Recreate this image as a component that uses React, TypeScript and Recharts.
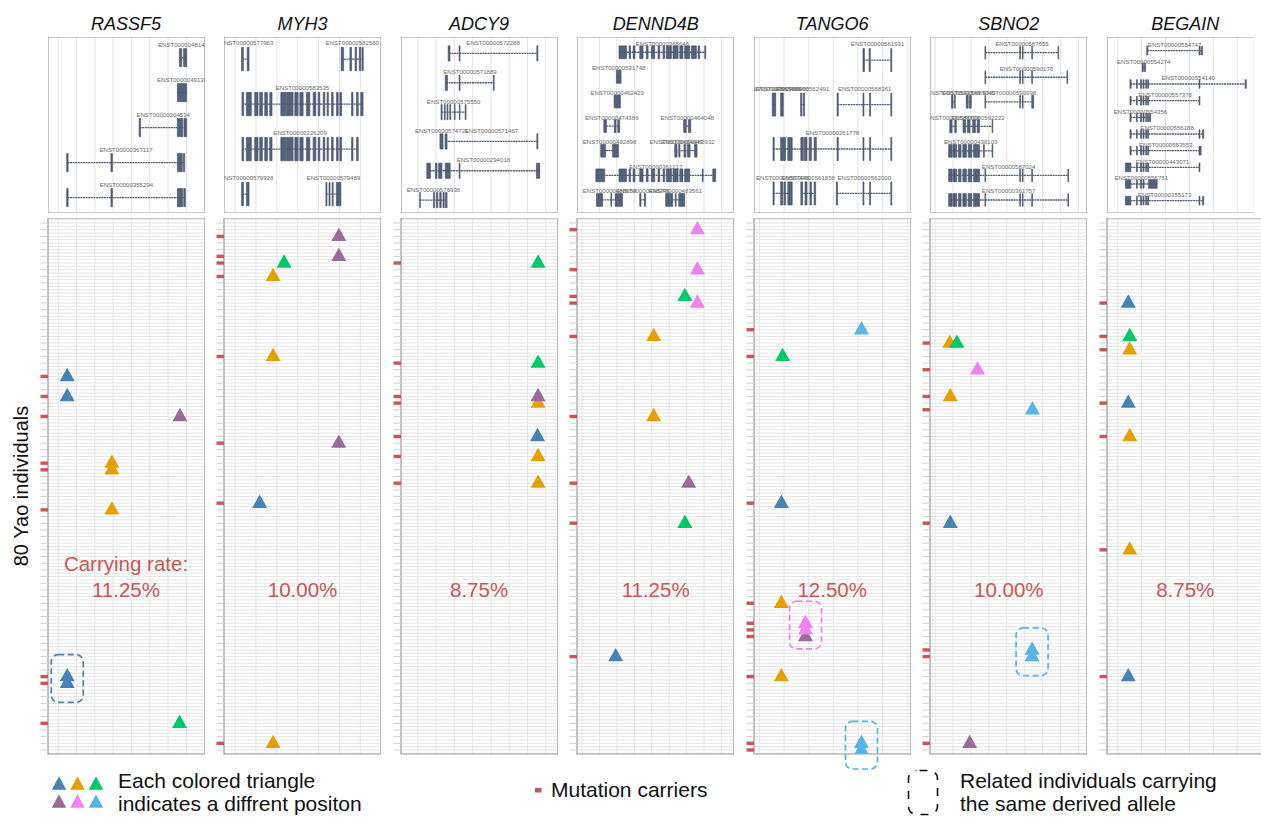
import React from "react";
import {
  ComposedChart,
  ScatterChart,
  Scatter,
  XAxis,
  YAxis,
  CartesianGrid,
  ReferenceArea,
  ReferenceLine,
} from "recharts";

const FONT = '"Liberation Sans", Arial, Helvetica, sans-serif';

const genes = ["RASSF5", "MYH3", "ADCY9", "DENND4B", "TANGO6", "SBNO2", "BEGAIN"];
const carryingRates = ["11.25%", "10.00%", "8.75%", "11.25%", "12.50%", "10.00%", "8.75%"];

// x range of each panel, in units of the panel's grid spacing
const xRanges = [
  [-0.56, 8.02],
  [-0.53, 6.99],
  [-0.92, 7.67],
  [-0.29, 8.72],
  [-0.22, 6.15],
  [-0.28, 8.47],
  [-0.45, 6.12],
];
const gridCounts = [8, 7, 8, 9, 7, 9, 7];

const COLORS: Record<string, string> = {
  B: "#4682B4",
  O: "#E69F00",
  G: "#00C96A",
  P: "#9A6A9A",
  K: "#EE82EE",
  L: "#56B4E9",
};
const RED = "#CD5555";

// [individual row, position, variant colour]
const rassf5Hits = [[23, 0.49, "B"], [26, 0.49, "B"], [29, 6.65, "P"], [36, 2.93, "O"], [37, 2.93, "O"], [43, 2.93, "O"], [68, 0.49, "B"], [69, 0.49, "B"], [75, 6.63, "G"]];
const myh3Hits = [[2, 4.97, "P"], [5, 4.97, "P"], [6, 2.35, "G"], [8, 1.82, "O"], [20, 1.82, "O"], [33, 4.97, "P"], [42, 1.18, "B"], [78, 1.82, "O"]];
const adcy9Hits = [[6, 6.58, "G"], [21, 6.58, "G"], [26, 6.58, "P"], [27, 6.58, "O"], [32, 6.55, "B"], [35, 6.58, "O"], [39, 6.58, "O"]];
const dennd4bHits = [[1, 6.62, "K"], [7, 6.62, "K"], [11, 5.9, "G"], [12, 6.62, "K"], [17, 4.11, "O"], [29, 4.11, "O"], [39, 6.12, "P"], [45, 5.9, "G"], [65, 1.93, "B"]];
const tango6Hits = [[16, 4.14, "L"], [20, 0.94, "G"], [42, 0.89, "B"], [57, 0.89, "O"], [60, 1.87, "K"], [61, 1.87, "K"], [62, 1.87, "P"], [68, 0.89, "O"], [78, 4.14, "L"], [79, 4.14, "L"]];
const sbno2Hits = [[18, 0.82, "O"], [18, 1.22, "G"], [22, 2.37, "K"], [26, 0.85, "O"], [28, 5.43, "L"], [45, 0.85, "B"], [64, 5.41, "L"], [65, 5.41, "L"], [78, 1.93, "P"]];
const begainHits = [[12, 0.44, "B"], [17, 0.5, "G"], [19, 0.5, "O"], [27, 0.44, "B"], [32, 0.5, "O"], [49, 0.5, "O"], [68, 0.44, "B"]];
const hitsByGene = [rassf5Hits, myh3Hits, adcy9Hits, dennd4bHits, tango6Hits, sbno2Hits, begainHits];

// related individuals carrying the same derived allele
const relatedGroups = [
  { gene: 0, pos: 0.49, rows: [68, 69], c: "B" },
  { gene: 4, pos: 1.87, rows: [60, 61], c: "K" },
  { gene: 4, pos: 4.14, rows: [78, 79], c: "L" },
  { gene: 5, pos: 5.41, rows: [64, 65], c: "L" },
];

// transcripts: row, id, start, end, exon bounds (pairs), optional label x
const tx = (r: number, id: string, s: number, e: number, ex: number[], lx?: number) => ({ r, id, s, e, ex, lx });

const rassf5Tx = [
  tx(0, "ENST0000048148", 6.62, 7.02, [6.62, 6.75, 6.85, 7.02]),
  tx(1, "ENST0000049136", 6.51, 7.02, [6.51, 7.02]),
  tx(2, "ENST00000304534", 4.45, 7.02, [4.42, 4.5, 6.51, 6.8, 6.87, 7.02]),
  tx(3, "ENST00000367117", 0.5, 6.91, [0.46, 0.54, 2.88, 2.96, 6.51, 6.78, 6.84, 6.91]),
  tx(4, "ENST00000355294", 0.5, 6.95, [0.46, 0.54, 2.88, 2.96, 6.51, 6.8, 6.86, 6.95]),
];

const myh3Core = [0.33, 0.41, 0.54, 0.78, 0.94, 1.1, 1.18, 1.31, 1.42, 1.55, 1.66, 1.77, 2.19, 2.43, 2.46, 2.78, 2.86, 3.02, 3.1, 3.26, 3.42, 3.58, 3.74, 3.87, 3.98, 4.06, 4.22, 4.3, 4.41, 4.47, 4.62, 4.7, 4.86, 4.94, 5.02, 5.1, 5.58, 5.65, 5.82, 5.9];
const myh3Tx = [
  tx(0, "NST00000577963", 0.33, 0.66, [0.31, 0.4, 0.58, 0.67], 0.65),
  tx(0, "ENST00000582580", 5.1, 6.13, [5.08, 5.2, 5.5, 5.58, 5.75, 5.82, 5.95, 6.02, 6.08, 6.14]),
  tx(1, "ENST00000583535", 0.33, 6.13, [...myh3Core, 6.02, 6.13]),
  tx(2, "ENST00000226209", 0.33, 5.9, myh3Core),
  tx(3, "NST00000579928", 0.33, 0.66, [0.31, 0.4, 0.55, 0.67], 0.65),
  tx(3, "ENST00000579489", 4.35, 5.07, [4.35, 4.4, 4.5, 4.55, 4.65, 4.7, 4.85, 5.07]),
];

const adcy9Tx = [
  tx(0, "ENST00000572288", 1.69, 6.55, [1.66, 1.76, 2.26, 2.31, 6.51, 6.57]),
  tx(1, "ENST00000571889", 1.54, 4.17, [1.5, 1.62, 2.26, 2.31, 4.13, 4.18]),
  tx(2, "ENST00000575550", 1.29, 2.63, [1.27, 1.33, 1.45, 1.5, 1.6, 1.65, 1.75, 1.8, 2.0, 2.04, 2.27, 2.31, 2.59, 2.64]),
  tx(3, "ENST00000574721", 1.23, 1.38, [1.21, 1.38]),
  tx(3, "ENST00000571467", 1.51, 6.55, [1.49, 1.6, 6.51, 6.57]),
  tx(4, "ENST00000294016", 0.51, 6.67, [0.49, 0.69, 0.96, 1.05, 1.14, 1.32, 1.5, 1.77, 2.26, 2.31, 6.49, 6.67]),
  tx(5, "ENST00000576936", 0.11, 1.6, [0.1, 0.14, 0.85, 0.92, 1.02, 1.1, 1.2, 1.28, 1.38, 1.45, 1.52, 1.6]),
];

const dennd4bCore = [2.12, 2.55, 2.7, 2.78, 2.93, 3.04, 3.31, 3.5, 3.69, 3.79, 3.98, 4.17, 4.36, 4.46, 4.65, 4.74, 4.84, 5.13, 5.22, 5.51, 5.61, 5.79, 5.89, 6.18];
const dennd4bTx = [
  tx(0, "ENST00000368646", 2.12, 7.1, [...dennd4bCore, 6.28, 6.56, 6.66, 6.75, 7.04, 7.1]),
  tx(1, "ENST00000531748", 1.97, 2.24, [1.97, 2.24]),
  tx(2, "ENST00000462423", 1.84, 2.2, [1.84, 2.2]),
  tx(3, "ENST00000474386", 1.25, 2.16, [1.25, 1.4, 1.85, 1.95, 2.05, 2.16]),
  tx(3, "ENST00000464048", 5.83, 6.24, [5.83, 5.98, 6.1, 6.24]),
  tx(4, "ENST00000492898", 1.07, 2.09, [1.07, 1.35, 1.75, 2.09]),
  tx(4, "ENST00000484647", 5.32, 5.5, [5.32, 5.45]),
  tx(4, "ENST00000482932", 5.55, 6.6, [5.55, 5.62, 5.85, 5.95, 6.05, 6.2, 6.45, 6.6]),
  tx(5, "ENST00000361217", 0.79, 7.67, [0.79, 1.3, ...dennd4bCore, 6.9, 6.95, 7.5, 7.67]),
  tx(6, "ENST00000488654", 0.83, 2.32, [0.83, 1.18, 1.65, 1.7, 1.9, 2.32]),
  tx(6, "ENST00000498346", 3.31, 3.65, [3.31, 3.38, 3.58, 3.65]),
  tx(6, "ENST00000483561", 4.8, 5.89, [4.8, 5.2, 5.35, 5.4, 5.55, 5.89]),
];

const tango6Tx = [
  tx(0, "ENST00000561931", 4.22, 5.37, [4.2, 4.26, 4.45, 4.5, 5.33, 5.37]),
  tx(1, "ENST00000565486", 0.52, 0.66, [0.52, 0.66]),
  tx(1, "ENST00000566466", 0.86, 0.97, [0.86, 0.97]),
  tx(1, "ENST00000562491", 1.67, 1.83, [1.67, 1.72, 1.78, 1.83]),
  tx(1, "ENST00000568361", 3.17, 5.37, [3.15, 3.2, 4.2, 4.24, 4.47, 4.51, 5.33, 5.37]),
  tx(2, "ENST00000261778", 0.56, 5.37, [0.55, 0.6, 0.86, 1.06, 1.15, 1.33, 1.68, 1.78, 1.82, 1.93, 2.02, 2.11, 2.22, 2.31, 3.15, 3.2, 4.2, 4.24, 4.47, 4.51, 5.33, 5.37]),
  tx(3, "ENST00000567446", 0.56, 1.33, [0.55, 0.6, 0.86, 0.95, 1.0, 1.06, 1.15, 1.33]),
  tx(3, "ENST00000561856", 1.68, 2.28, [1.68, 1.75, 1.85, 1.93, 2.05, 2.11, 2.22, 2.28]),
  tx(3, "ENST00000562000", 3.14, 5.37, [3.12, 3.17, 4.2, 4.24, 4.47, 4.51, 5.33, 5.37]),
];

const sbno2Tail = [2.78, 2.82, 4.72, 4.76, 4.87, 4.91, 5.39, 5.43];
const sbno2Head = [0.76, 0.95, 1.0, 1.2, 1.3, 1.45, 1.55, 1.75, 1.85, 2.05, 2.15, 2.48];
const sbno2Tx = [
  tx(0, "ENST00000587655", 2.8, 6.89, [...sbno2Tail, 6.85, 6.89]),
  tx(1, "ENST00000590176", 2.8, 7.39, [...sbno2Tail, 7.35, 7.39]),
  tx(2, "ENST00000591548", 0.94, 1.13, [0.92, 1.0, 1.08, 1.13]),
  tx(2, "ENST00000585040", 1.74, 2.02, [1.74, 1.85, 1.92, 2.02]),
  tx(2, "ENST00000590998", 2.8, 5.5, [2.78, 2.82, 4.72, 4.76, 4.87, 4.91, 5.39, 5.5]),
  tx(3, "ENST00000588708", 0.82, 1.19, [0.82, 0.95, 1.1, 1.19]),
  tx(3, "ENST00000592222", 1.56, 3.22, [1.56, 1.7, 1.8, 1.95, 2.1, 2.25, 2.35, 2.48, 3.18, 3.22]),
  tx(4, "ENST00000438103", 0.76, 3.22, [...sbno2Head, 2.7, 2.75, 3.18, 3.22]),
  tx(5, "ENST00000587024", 0.76, 7.44, [...sbno2Head, ...sbno2Tail, 7.4, 7.44]),
  tx(6, "ENST00000361757", 0.76, 7.44, [...sbno2Head, ...sbno2Tail, 7.4, 7.44]),
];

const begainCore = [0.78, 0.82, 0.95, 1.0, 1.06, 1.1, 1.17, 1.21, 1.25, 1.29];
const begainTx = [
  tx(0, "ENST00000554747", 1.23, 3.53, [1.21, 1.26, 3.4, 3.45, 3.5, 3.55]),
  tx(1, "ENST00000554274", 1.02, 1.16, [1.02, 1.07, 1.11, 1.16]),
  tx(2, "ENST00000554140", 0.53, 5.37, [0.51, 0.56, ...begainCore, 3.4, 3.44, 5.33, 5.38]),
  tx(3, "ENST00000557378", 0.53, 3.44, [0.51, 0.56, ...begainCore, 3.4, 3.44]),
  tx(4, "ENST00000554356", 0.53, 1.37, [0.51, 0.56, ...begainCore, 1.33, 1.37]),
  tx(5, "ENST00000556188", 0.53, 3.6, [0.51, 0.56, ...begainCore, 3.4, 3.44, 3.55, 3.6]),
  tx(6, "ENST00000553553", 0.53, 3.49, [0.51, 0.56, ...begainCore, 3.4, 3.44, 3.45, 3.49]),
  tx(7, "ENST00000443071", 0.32, 3.43, [0.32, 0.55, ...begainCore, 3.4, 3.44]),
  tx(8, "ENST00000556751", 0.32, 1.65, [0.32, 0.55, 0.78, 0.82, 0.95, 1.0, 1.06, 1.1, 1.29, 1.65]),
  tx(9, "ENST00000355173", 0.32, 3.6, [0.32, 0.55, ...begainCore, 3.4, 3.44, 3.55, 3.6]),
];
const transcriptsByGene = [rassf5Tx, myh3Tx, adcy9Tx, dennd4bTx, tango6Tx, sbno2Tx, begainTx];

// row padding (top, bottom) of the transcript panels
const topPads = [[0.59, 0.44], [0.49, 0.42], [0.56, 0.44], [0.62, 0.53], [0.52, 0.44], [0.64, 0.53], [0.82, 0.74]];

// layout
const PANEL_W = 157;
const PANEL_STEP = 176.55;
const FIRST_LEFT = 47.5;
const TOP_Y = 37;
const TOP_H = 176;
const BOT_Y = 218;
const BOT_H = 536;
const TICK_W = 8;
const Y_LO = -0.75;
const Y_HI = 79.6;
const N_IND = 80;

const rowTicks = Array.from({ length: N_IND }, (_, i) => i);
const halfRows = Array.from({ length: 2 * N_IND + 1 }, (_, i) => i / 2 - 0.5);
const panelLeft = (i: number) => FIRST_LEFT + PANEL_STEP * i;

function Tri(p: any) {
  const { cx, cy, payload } = p;
  return (
    <polygon
      points={`${cx},${cy - 8.7} ${cx - 7.5},${cy + 4.7} ${cx + 7.5},${cy + 4.7}`}
      fill={payload.color}
    />
  );
}

function TxLabel(p: any) {
  return (
    <text x={p.cx} y={p.cy} textAnchor="middle" dominantBaseline="central" fontSize={6.1} fill="#6a6a6a" fontFamily={FONT}>
      {p.payload.id}
    </text>
  );
}

function RowTick(props: any) {
  const { x, y, payload, carriers } = props;
  if (carriers.has(payload.value)) {
    return <rect x={x - 7.5} y={y - 1.7} width={7.5} height={3.4} fill={RED} />;
  }
  return <line x1={x - 7.5} x2={x} y1={y} y2={y} stroke="#d0d0d0" strokeWidth={1} />;
}

function GeneModel({ idx }: { idx: number }) {
  const list = transcriptsByGene[idx];
  const [lo, hi] = xRanges[idx];
  const width = idx === 6 ? 147.5 : PANEL_W;
  const hiTop = lo + ((hi - lo) * width) / PANEL_W;
  const nRows = Math.max(...list.map((t) => t.r)) + 1;
  const [pt, pb] = topPads[idx];
  const yLo = -pt;
  const yHi = nRows - 1 + pb;
  const grid = Array.from({ length: gridCounts[idx] }, (_, i) => i).filter((v) => v <= hiTop);
  const exons: { a: number; b: number; r: number }[] = [];
  list.forEach((t) => {
    for (let k = 0; k < t.ex.length; k += 2) exons.push({ a: t.ex[k], b: t.ex[k + 1], r: t.r });
  });
  const labels = list.map((t) => ({ x: t.lx ?? (t.s + t.e) / 2, y: t.r - 0.37, id: t.id }));
  return (
    <ComposedChart width={width} height={TOP_H} margin={{ top: 0, right: 0, bottom: 0, left: 0 }}>
      <XAxis type="number" dataKey="x" domain={[lo, hiTop]} allowDataOverflow hide />
      <YAxis type="number" dataKey="y" domain={[yLo, yHi]} reversed allowDataOverflow hide />
      <CartesianGrid horizontal={false} verticalValues={grid} stroke="#e3e3e3" strokeWidth={1} />
      {list.map((t, i) => (
        <ReferenceLine
          key={"in" + i}
          segment={[{ x: t.s, y: t.r }, { x: t.e, y: t.r }]}
          stroke="#4d5c73"
          strokeWidth={1.3}
          strokeDasharray="2 0.6"
          ifOverflow="visible"
        />
      ))}
      {exons.map((e, i) => (
        <ReferenceArea
          key={"ex" + i}
          x1={e.a}
          x2={e.b}
          y1={e.r - 0.26}
          y2={e.r + 0.26}
          fill="#53637b"
          fillOpacity={1}
          stroke="#3f4c61"
          strokeWidth={0.6}
          ifOverflow="visible"
        />
      ))}
      <Scatter data={labels} shape={TxLabel} isAnimationActive={false} />
      <ReferenceArea x1={lo} x2={hiTop} y1={yLo} y2={yHi} fill="none" stroke="#9a9a9a" strokeWidth={1.2} ifOverflow="visible" />
    </ComposedChart>
  );
}

function CarrierPanel({ idx }: { idx: number }) {
  const hits = hitsByGene[idx];
  const [lo, hi] = xRanges[idx];
  const carriers = new Set(hits.map((h) => h[0] as number));
  const pts = hits
    .map(([row, pos, c]) => ({ x: pos as number, y: row as number, color: COLORS[c as string] }))
    .sort((a, b) => b.y - a.y);
  const grid = Array.from({ length: gridCounts[idx] }, (_, i) => i);
  const groups = relatedGroups.filter((g) => g.gene === idx);
  return (
    <ScatterChart width={PANEL_W + TICK_W} height={BOT_H + 18} margin={{ top: 0, right: 0, bottom: 18, left: 0 }} style={{ overflow: "visible" }}>
      <CartesianGrid horizontalValues={halfRows} verticalValues={grid} stroke="#e6e6e6" strokeWidth={1} />
      <XAxis type="number" dataKey="x" domain={[lo, hi]} allowDataOverflow hide />
      <YAxis
        type="number"
        dataKey="y"
        domain={[Y_LO, Y_HI]}
        reversed
        allowDataOverflow
        ticks={rowTicks}
        interval={0}
        width={TICK_W}
        tickSize={0}
        tickMargin={0}
        axisLine={false}
        tickLine={false}
        tick={(p: any) => <RowTick {...p} carriers={carriers} />}
      />
      <ReferenceArea x1={lo} x2={hi} y1={Y_LO} y2={Y_HI} fill="none" stroke="#9a9a9a" strokeWidth={1.2} ifOverflow="visible" />
      {groups.map((g, i) => (
        <ReferenceArea
          key={"rel" + i}
          x1={g.pos}
          x2={g.pos}
          y1={g.rows[0]}
          y2={g.rows[g.rows.length - 1]}
          ifOverflow="visible"
          shape={(p: any) => (
            <rect
              x={p.x - 16}
              y={p.y - 22}
              width={32}
              height={p.height + 41}
              rx={7}
              fill="none"
              stroke={COLORS[g.c]}
              strokeWidth={1.7}
              strokeDasharray="6 3.5"
            />
          )}
        />
      ))}
      <Scatter data={pts} shape={Tri} isAnimationActive={false} />
    </ScatterChart>
  );
}

function LegendTri({ cx, cy, color }: { cx: number; cy: number; color: string }) {
  return <polygon points={`${cx},${cy - 8.7} ${cx - 7.2},${cy + 4.7} ${cx + 7.2},${cy + 4.7}`} fill={color} />;
}

export default function App() {
  return (
    <div style={{ position: "absolute", left: 0, top: 0, width: 1261, height: 818, overflow: "hidden", background: "#fff", fontFamily: FONT }}>
      {genes.map((g, i) => (
        <React.Fragment key={g}>
          <div style={{ position: "absolute", left: panelLeft(i), top: TOP_Y }}>
            <GeneModel idx={i} />
          </div>
          <div style={{ position: "absolute", left: panelLeft(i) - TICK_W, top: BOT_Y }}>
            <CarrierPanel idx={i} />
          </div>
        </React.Fragment>
      ))}
      <svg width={1261} height={818} style={{ position: "absolute", left: 0, top: 0, pointerEvents: "none" }}>
        {genes.map((g, i) => (
          <text key={g} x={panelLeft(i) + PANEL_W / 2} y={30} textAnchor="middle" fontSize={18} fontStyle="italic" fontFamily={FONT} fill="#111">
            {g}
          </text>
        ))}
        {carryingRates.map((r, i) => (
          <text key={"r" + i} x={panelLeft(i) + PANEL_W / 2} y={596.5} textAnchor="middle" fontSize={20.5} fontFamily={FONT} fill={RED}>
            {r}
          </text>
        ))}
        <text x={panelLeft(0) + PANEL_W / 2} y={571} textAnchor="middle" fontSize={20.5} fontFamily={FONT} fill={RED}>
          Carrying rate:
        </text>
        <text transform="translate(28,486) rotate(-90)" textAnchor="middle" fontSize={20} fontFamily={FONT} fill="#111">
          80 Yao individuals
        </text>

        <LegendTri cx={59} cy={785} color={COLORS.B} />
        <LegendTri cx={77.5} cy={785} color={COLORS.O} />
        <LegendTri cx={96} cy={785} color={COLORS.G} />
        <LegendTri cx={59} cy={803} color={COLORS.P} />
        <LegendTri cx={77.5} cy={803} color={COLORS.K} />
        <LegendTri cx={96} cy={803} color={COLORS.L} />
        <text x={118} y={788} fontSize={21} fontFamily={FONT} fill="#111">Each colored triangle</text>
        <text x={118} y={811} fontSize={21} fontFamily={FONT} fill="#111">indicates a diffrent positon</text>

        <rect x={535} y={788} width={6.5} height={4.5} fill={RED} />
        <text x={551} y={797} fontSize={21} fontFamily={FONT} fill="#111">Mutation carriers</text>

        <rect x={908.5} y={770.5} width={29} height={44} rx={8} fill="none" stroke="#111" strokeWidth={1.6} strokeDasharray="8 8" strokeDashoffset={-3} />
        <text x={960} y={788} fontSize={21} fontFamily={FONT} fill="#111">Related individuals carrying</text>
        <text x={960} y={811} fontSize={21} fontFamily={FONT} fill="#111">the same derived allele</text>
      </svg>
    </div>
  );
}
